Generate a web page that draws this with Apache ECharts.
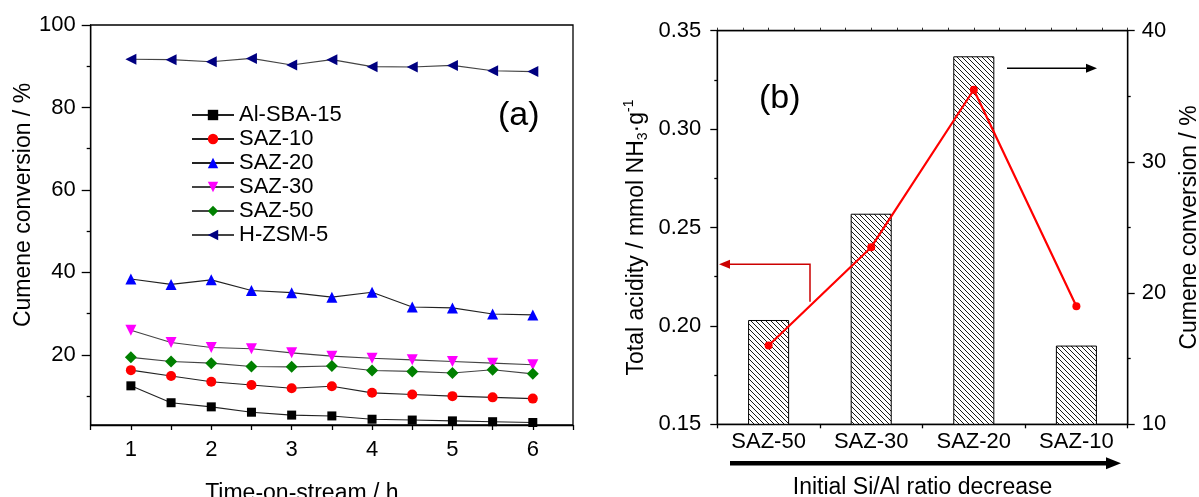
<!DOCTYPE html>
<html>
<head>
<meta charset="utf-8">
<script src="https://cdn.jsdelivr.net/npm/echarts@6/dist/echarts.min.js"></script>
<style>html,body{margin:0;padding:0;background:#fff}#c{width:1199px;height:497px}</style>
</head>
<body>
<div id="c"></div>
<script>
// ---- Panel (a) data ----
const times = [1, 1.5, 2, 2.5, 3, 3.5, 4, 4.5, 5, 5.5, 6];
const alSBA15 = [12.5, 8.4, 7.4, 6.1, 5.4, 5.2, 4.4, 4.2, 4.0, 3.8, 3.6];
const saz10 = [16.3, 14.9, 13.5, 12.7, 11.9, 12.4, 10.8, 10.4, 10.0, 9.7, 9.4];
const saz20 = [38.4, 37.1, 38.2, 35.6, 35.1, 34.0, 35.2, 31.6, 31.4, 29.9, 29.7];
const saz30 = [26.0, 23.0, 21.8, 21.5, 20.5, 19.7, 19.2, 18.8, 18.4, 18.0, 17.6];
const saz50 = [19.4, 18.4, 18.0, 17.2, 17.1, 17.3, 16.2, 16.0, 15.6, 16.4, 15.4];
const hzsm5 = [91.7, 91.6, 91.1, 91.9, 90.3, 91.6, 89.9, 89.8, 90.2, 88.9, 88.7];
const xTickValues = [0.5, 1, 1.5, 2, 2.5, 3, 3.5, 4, 4.5, 5, 5.5, 6, 6.5];
const xLabelValues = [1, 2, 3, 4, 5, 6];
const yMajorValues = [20, 40, 60, 80, 100];
const yMinorValues = [10, 30, 50, 70, 90];

// ---- Panel (b) data ----
const catalysts = ['SAZ-50', 'SAZ-30', 'SAZ-20', 'SAZ-10'];
const totalAcidity = [0.203, 0.257, 0.337, 0.190];
const cumeneConversion = [16.0, 23.5, 35.5, 19.0];

const FONT = 'Liberation Sans, Arial, Helvetica, sans-serif';

function hatchPattern() {
  const s = 5;
  const c = document.createElement('canvas');
  c.width = s; c.height = s;
  const g = c.getContext('2d');
  g.fillStyle = '#fff'; g.fillRect(0, 0, s, s);
  g.strokeStyle = '#000'; g.lineWidth = 0.9;
  g.beginPath();
  g.moveTo(0, 0); g.lineTo(s, s);
  g.moveTo(-1, s - 1); g.lineTo(1, s + 1);
  g.moveTo(s - 1, -1); g.lineTo(s + 1, 1);
  g.stroke();
  return c;
}

const G0 = {left: 90.7, top: 25, right: 573, bottom: 425};
const G1 = {left: 717.3, top: 30.7, right: 1127.7, bottom: 424.3};

const axisLineStyle = {color: '#000', width: 1.3};
const labelStyle = {color: '#000', fontSize: 22, fontFamily: FONT};

const chart = echarts.init(document.getElementById('c'), null, {renderer: 'canvas'});

function lineSeries(name, data, symbol, size, color, lineColor, rotate) {
  return {
    type: 'line', name: name, xAxisIndex: 0, yAxisIndex: 0,
    data: times.map((t, i) => [t, data[i]]),
    symbol: symbol, symbolSize: size, symbolRotate: rotate || 0,
    showSymbol: true, clip: false, animation: false,
    itemStyle: {color: color},
    lineStyle: {color: lineColor, width: 1.1}
  };
}

const option = {
  animation: false,
  backgroundColor: '#fff',
  textStyle: {fontFamily: FONT},
  grid: [
    {left: G0.left, top: G0.top, width: G0.right - G0.left, height: G0.bottom - G0.top,
     containLabel: false, outerBoundsMode: 'none',
     show: true, borderColor: '#000', borderWidth: 1.3, backgroundColor: 'transparent'},
    {left: G1.left, top: G1.top, width: G1.right - G1.left, height: G1.bottom - G1.top,
     containLabel: false, outerBoundsMode: 'none',
     show: true, borderColor: '#000', borderWidth: 1.3, backgroundColor: 'transparent'}
  ],
  legend: {
    orient: 'vertical', left: 191, top: 103, padding: 0,
    itemWidth: 42, itemHeight: 13, itemGap: 0,
    textStyle: {color: '#000', fontSize: 22, fontFamily: FONT, lineHeight: 24},
    data: ['Al-SBA-15', 'SAZ-10', 'SAZ-20', 'SAZ-30', 'SAZ-50', 'H-ZSM-5']
  },
  xAxis: [
    {type: 'value', gridIndex: 0, min: 0.5, max: 6.5, position: 'bottom',
     name: 'Time-on-stream / h', nameLocation: 'middle', nameGap: 57,
     nameTextStyle: {color: '#000', fontSize: 23, fontFamily: FONT, padding: [0, 60, 0, 0]},
     axisLine: {show: true, lineStyle: axisLineStyle},
     axisTick: {show: true, length: 5, customValues: xTickValues, lineStyle: axisLineStyle},
     axisLabel: Object.assign({margin: 14, customValues: xLabelValues}, labelStyle),
     splitLine: {show: false}},
    {type: 'category', gridIndex: 1, data: catalysts, boundaryGap: true, position: 'bottom',
     name: 'Initial Si/Al ratio decrease', nameLocation: 'middle', nameGap: 52,
     nameTextStyle: {color: '#000', fontSize: 23, fontFamily: FONT},
     axisLine: {show: true, lineStyle: axisLineStyle},
     axisTick: {show: true, length: 4, alignWithLabel: false, lineStyle: axisLineStyle},
     axisLabel: Object.assign({margin: 7, interval: 0}, labelStyle),
     splitLine: {show: false}},
    {type: 'value', gridIndex: 1, min: 0, max: 16, interval: 1, position: 'top',
     axisLine: {show: true, lineStyle: axisLineStyle},
     axisTick: {show: true, length: 3, lineStyle: {color: '#000', width: 0.8}},
     axisLabel: {show: false}, splitLine: {show: false}}
  ],
  yAxis: [
    {type: 'value', gridIndex: 0, min: 3, max: 100, position: 'left',
     name: 'Cumene conversion / %', nameLocation: 'middle', nameGap: 54, nameRotate: 90,
     nameTextStyle: {color: '#000', fontSize: 23, fontFamily: FONT, padding: [0, 0, 0, 40]},
     axisLine: {show: true, lineStyle: axisLineStyle},
     axisTick: {show: true, length: 9, customValues: yMajorValues, lineStyle: axisLineStyle},
     axisLabel: Object.assign({margin: 15, customValues: yMajorValues}, labelStyle),
     splitLine: {show: false}},
    {type: 'value', gridIndex: 0, min: 3, max: 100, position: 'left',
     axisLine: {show: false},
     axisTick: {show: true, length: 4, customValues: yMinorValues, lineStyle: axisLineStyle},
     axisLabel: {show: false}, splitLine: {show: false}},
    {type: 'value', gridIndex: 1, min: 0.15, max: 0.35, interval: 0.05, position: 'left',
     name: '{n|Total acidity / mmol NH}{sub|3}{n|·g}{sup|-1}',
     nameLocation: 'middle', nameGap: 67, nameRotate: 90,
     nameTextStyle: {color: '#000', fontSize: 23, fontFamily: FONT, padding: [0, 20, 0, 0],
       rich: {
         n: {fontSize: 23, fontFamily: FONT, color: '#000', lineHeight: 28, verticalAlign: 'middle'},
         sub: {fontSize: 14, fontFamily: FONT, color: '#000', lineHeight: 28, verticalAlign: 'bottom'},
         sup: {fontSize: 14, fontFamily: FONT, color: '#000', lineHeight: 28, verticalAlign: 'top'}
       }},
     axisLine: {show: true, lineStyle: axisLineStyle},
     axisTick: {show: true, length: 7, lineStyle: axisLineStyle},
     minorTick: {show: true, splitNumber: 2, length: 3, lineStyle: axisLineStyle},
     axisLabel: Object.assign({margin: 16, formatter: v => v.toFixed(2)}, labelStyle),
     splitLine: {show: false}, minorSplitLine: {show: false}},
    {type: 'value', gridIndex: 1, min: 10, max: 40, interval: 10, position: 'right',
     name: 'Cumene conversion / %', nameLocation: 'middle', nameGap: 50, nameRotate: 90,
     nameTextStyle: {color: '#000', fontSize: 23, fontFamily: FONT},
     axisLine: {show: true, lineStyle: axisLineStyle},
     axisTick: {show: true, length: 7, lineStyle: axisLineStyle},
     minorTick: {show: true, splitNumber: 2, length: 3, lineStyle: axisLineStyle},
     axisLabel: Object.assign({margin: 14}, labelStyle),
     splitLine: {show: false}, minorSplitLine: {show: false}}
  ],
  series: [
    lineSeries('Al-SBA-15', alSBA15, 'rect', 9, '#000000', '#222'),
    lineSeries('SAZ-10', saz10, 'circle', 10, '#ff0000', '#222'),
    lineSeries('SAZ-20', saz20, 'triangle', 11, '#0000ff', '#222'),
    lineSeries('SAZ-30', saz30, 'triangle', 11, '#ff00ff', '#444', 180),
    lineSeries('SAZ-50', saz50, 'diamond', 12, '#008000', '#444'),
    lineSeries('H-ZSM-5', hzsm5, 'triangle', 11, '#000080', '#444', 90),
    {type: 'bar', name: 'Total acidity', xAxisIndex: 1, yAxisIndex: 2,
     data: totalAcidity, barWidth: '40%',
     itemStyle: {color: {image: hatchPattern(), repeat: 'repeat'}, borderColor: '#000', borderWidth: 1}},
    {type: 'line', name: 'Cumene conversion', xAxisIndex: 1, yAxisIndex: 3,
     data: cumeneConversion, symbol: 'circle', symbolSize: 8,
     itemStyle: {color: '#ff0000'}, lineStyle: {color: '#ff0000', width: 2.2}}
  ],
  graphic: [
    {type: 'text', left: 498, top: 99, style: {text: '(a)', fontSize: 34, fontFamily: FONT, fill: '#000'}},
    {type: 'text', left: 759, top: 82, style: {text: '(b)', fontSize: 34, fontFamily: FONT, fill: '#000'}},
    // black arrow pointing to right axis
    {type: 'line', shape: {x1: 1007, y1: 68.3, x2: 1088, y2: 68.3}, style: {stroke: '#000', lineWidth: 1.5}},
    {type: 'polygon', shape: {points: [[1097, 68.3], [1086, 63.8], [1086, 72.8]]}, style: {fill: '#000'}},
    // red arrow pointing to left axis
    {type: 'polyline', shape: {points: [[810, 301.7], [810, 264.3], [727, 264.3]]}, style: {stroke: '#cc0000', lineWidth: 1.5, fill: null}},
    {type: 'polygon', shape: {points: [[719, 264.3], [730, 259.8], [730, 268.8]]}, style: {fill: '#cc0000'}},
    // big arrow under panel (b)
    {type: 'rect', shape: {x: 730, y: 461, width: 378, height: 4.6}, style: {fill: '#000'}},
    {type: 'polygon', shape: {points: [[1121, 463.3], [1106, 457.3], [1106, 469.3]]}, style: {fill: '#000'}}
  ]
};
chart.setOption(option);
</script>
</body>
</html>
